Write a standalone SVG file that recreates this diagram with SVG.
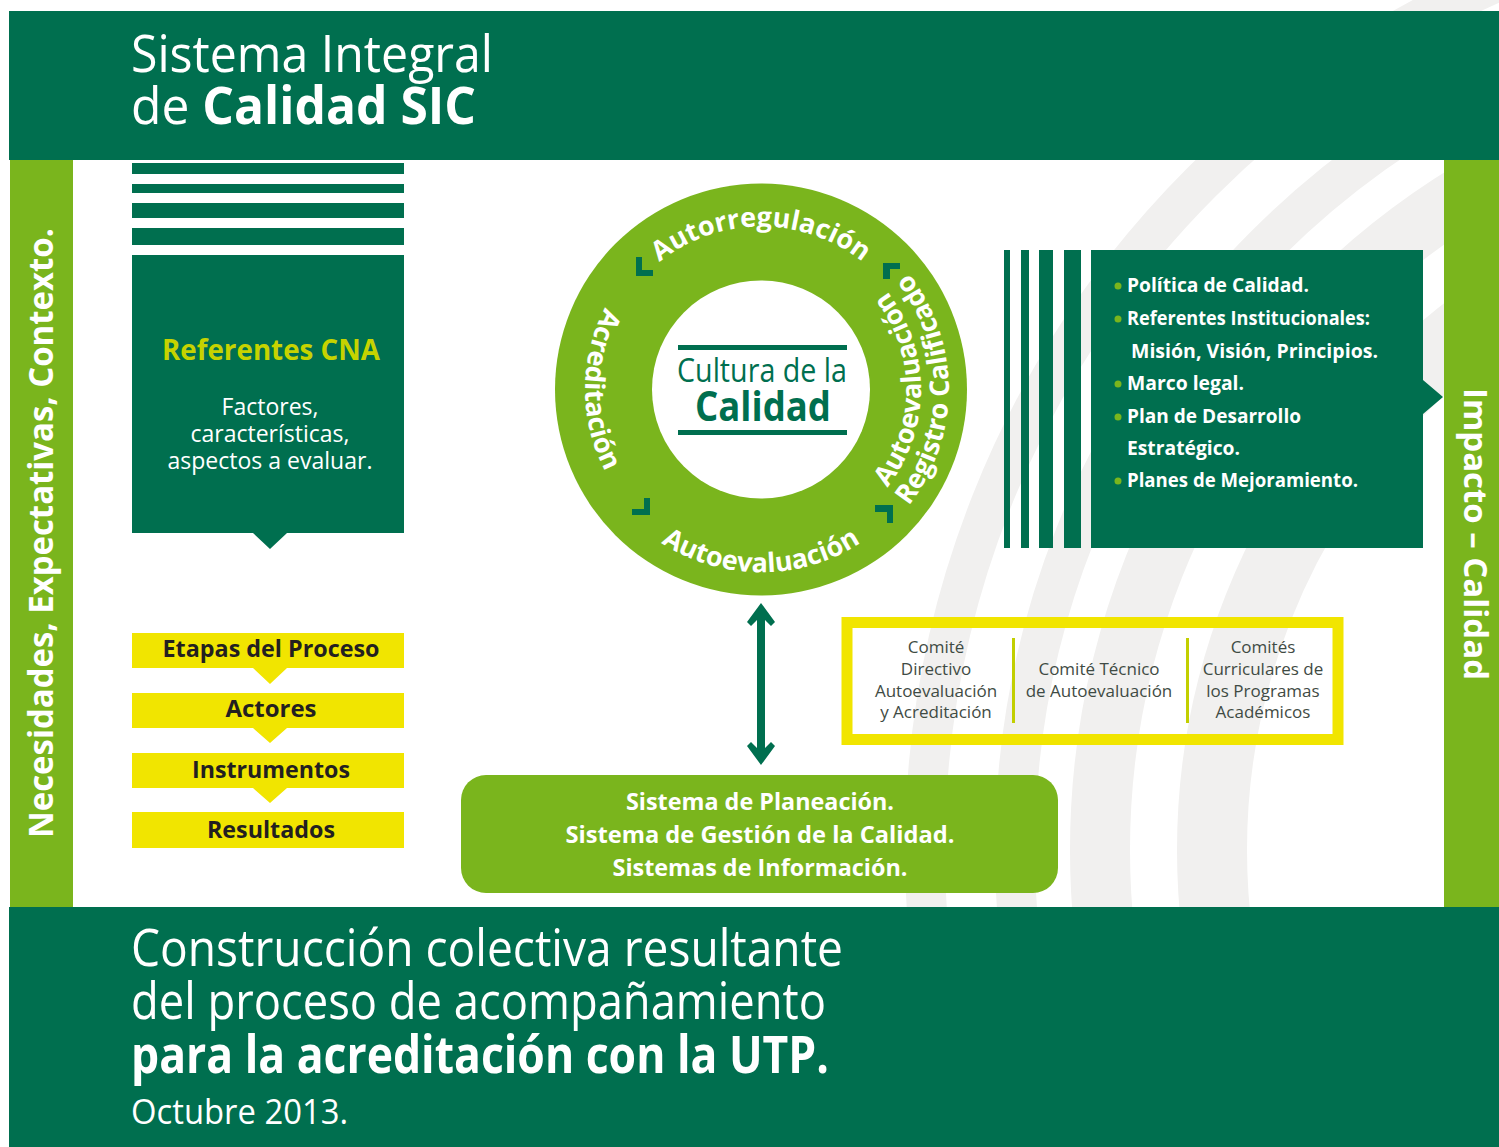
<svg xmlns="http://www.w3.org/2000/svg" width="1499" height="1147" viewBox="0 0 1499 1147">
<style>
  .dg{fill:#006f4f}
  .lg{fill:#7ab51d}
  .yl{fill:#f1e500}
  .wt{fill:#ffffff}
  .f{font-family:"Open Sans","Noto Sans","Liberation Sans",sans-serif}
  .b{font-weight:700}
  .c{text-anchor:middle}
  .ring{font-family:"Open Sans","Noto Sans","Liberation Sans",sans-serif;font-weight:700;fill:#ffffff;font-size:27px}
  .bul{font-family:"Open Sans","Noto Sans","Liberation Sans",sans-serif;font-weight:700;fill:#ffffff;font-size:20px}
  .com{font-family:"Open Sans","Noto Sans","Liberation Sans",sans-serif;fill:#3f4b44;font-size:17px;text-anchor:middle}
  .etp{font-family:"Open Sans","Noto Sans","Liberation Sans",sans-serif;font-weight:700;fill:#231f20;font-size:24px;text-anchor:middle}
  .arc{fill:none;stroke:#f1f0ef}
</style>
<defs>
  <path id="pTop" d="M598,389.5 A163,163 0 0 1 924,389.5"/>
  <path id="pBot" d="M578,389.5 A183,183 0 0 0 944,389.5"/>
  <path id="pLeft" d="M761,213.5 A176,176 0 0 0 761,565.5"/>
  <path id="pRin" d="M761,549.5 A160,160 0 0 0 761,229.5"/>
  <path id="pRout" d="M761,577.5 A188,188 0 0 0 761,201.5"/>
</defs>
<rect x="0" y="0" width="1499" height="1147" fill="#ffffff"/>
<g id="watermark">
  <circle class="arc" cx="1870" cy="850" r="945" stroke-width="40"/>
  <circle class="arc" cx="1870" cy="850" r="855" stroke-width="40"/>
  <circle class="arc" cx="1870" cy="850" r="770" stroke-width="60"/>
  <circle class="arc" cx="1870" cy="850" r="658" stroke-width="70"/>
</g>
<g id="header">
  <rect class="dg" x="9" y="11" width="1490" height="149"/>
  <text class="f" x="131" y="72" font-size="52" fill="#fff" textLength="362" lengthAdjust="spacingAndGlyphs">Sistema Integral</text>
  <text class="f" x="131" y="124" font-size="52" fill="#fff" textLength="345" lengthAdjust="spacingAndGlyphs">de <tspan class="b">Calidad SIC</tspan></text>
</g>
<g id="left-bar">
  <rect class="lg" x="10" y="160" width="63" height="747"/>
  <text class="f b" transform="translate(53,838) rotate(-90)" x="0" y="0" font-size="34" fill="#fff" textLength="610" lengthAdjust="spacingAndGlyphs">Necesidades, Expectativas, Contexto.</text>
</g>
<g id="right-bar">
  <rect class="lg" x="1444" y="160" width="55" height="747"/>
  <text class="f b" transform="translate(1464,388) rotate(90)" x="0" y="0" font-size="33" fill="#fff" textLength="292" lengthAdjust="spacingAndGlyphs">Impacto – Calidad</text>
</g>
<g id="footer">
  <rect class="dg" x="9" y="907" width="1490" height="240"/>
  <text class="f" x="131" y="966" font-size="52" fill="#fff" textLength="712" lengthAdjust="spacingAndGlyphs">Construcción colectiva resultante</text>
  <text class="f" x="131" y="1019" font-size="52" fill="#fff" textLength="695" lengthAdjust="spacingAndGlyphs">del proceso de acompañamiento</text>
  <text class="f b" x="131" y="1073" font-size="52" fill="#fff" textLength="698" lengthAdjust="spacingAndGlyphs">para la acreditación con la UTP.</text>
  <text class="f" x="131" y="1124" font-size="35" fill="#fff" textLength="217" lengthAdjust="spacingAndGlyphs">Octubre 2013.</text>
</g>
<g id="referentes">
  <rect class="dg" x="132" y="163" width="272" height="11"/>
  <rect class="dg" x="132" y="184" width="272" height="9"/>
  <rect class="dg" x="132" y="203" width="272" height="15"/>
  <rect class="dg" x="132" y="228" width="272" height="17"/>
  <path class="dg" d="M132,255 H404 V533 H287 L270,549 L253,533 H132 Z"/>
  <text class="f b c" x="271" y="360" font-size="29" fill="#c6d300" textLength="218" lengthAdjust="spacingAndGlyphs">Referentes CNA</text>
  <text class="f c" x="270" y="415" font-size="23" fill="#fff">Factores,</text>
  <text class="f c" x="270" y="442" font-size="23" fill="#fff">características,</text>
  <text class="f c" x="270" y="469" font-size="23" fill="#fff" textLength="205" lengthAdjust="spacingAndGlyphs">aspectos a evaluar.</text>
</g>
<g id="etapas">
  <path class="yl" d="M132,633 H404 V668 H287 L270,684 L253,668 H132 Z"/>
  <text class="etp" x="271" y="657" textLength="217" lengthAdjust="spacingAndGlyphs">Etapas del Proceso</text>
</g>
<g id="actores">
  <path class="yl" d="M132,693 H404 V728 H287 L270,743 L253,728 H132 Z"/>
  <text class="etp" x="271" y="717" textLength="91" lengthAdjust="spacingAndGlyphs">Actores</text>
</g>
<g id="instrumentos">
  <path class="yl" d="M132,753 H404 V788 H287 L270,803 L253,788 H132 Z"/>
  <text class="etp" x="271" y="778" textLength="158" lengthAdjust="spacingAndGlyphs">Instrumentos</text>
</g>
<g id="resultados">
  <rect class="yl" x="132" y="812" width="272" height="36"/>
  <text class="etp" x="271" y="838" textLength="128" lengthAdjust="spacingAndGlyphs">Resultados</text>
</g>
<g id="ring">
  <circle class="lg" cx="761" cy="389.5" r="206"/>
  <circle class="wt" cx="761" cy="389.5" r="109"/>
  <rect class="dg" x="678" y="345" width="169" height="5"/>
  <rect class="dg" x="678" y="430" width="169" height="5"/>
  <text class="f c" x="762" y="382" font-size="32" fill="#006f4f" textLength="170" lengthAdjust="spacingAndGlyphs">Cultura de la</text>
  <text class="f b c" x="763" y="421" font-size="42" fill="#006f4f" textLength="136" lengthAdjust="spacingAndGlyphs">Calidad</text>
  <text class="ring"><textPath href="#pTop" startOffset="50%" text-anchor="middle">Autorregulación</textPath></text>
  <text class="ring" font-size="28"><textPath href="#pBot" startOffset="50%" text-anchor="middle">Autoevaluación</textPath></text>
  <text class="ring" font-size="26"><textPath href="#pLeft" startOffset="50%" text-anchor="middle">Acreditación</textPath></text>
  <text class="ring" font-size="27"><textPath href="#pRin" startOffset="50%" text-anchor="middle">Autoevaluación</textPath></text>
  <text class="ring" font-size="27"><textPath href="#pRout" startOffset="50%" text-anchor="middle">Registro Calificado</textPath></text>
  <polygon class="dg" points="636,257 642,257 642,270 653,270 653,276 636,276"/>
  <polygon class="dg" points="883,263 900,263 900,269 890,269 890,279 883,279"/>
  <polygon class="dg" points="875,505 893,505 893,523 887,523 887,512 875,512"/>
  <polygon class="dg" points="644,498 650,498 650,515 632,515 632,509 644,509"/>
</g>
<g id="institucional">
  <rect class="dg" x="1004" y="250" width="6" height="298"/>
  <rect class="dg" x="1021" y="250" width="8" height="298"/>
  <rect class="dg" x="1039" y="250" width="14" height="298"/>
  <rect class="dg" x="1064" y="250" width="17" height="298"/>
  <path class="dg" d="M1091,250 H1423 V380 L1443,397 L1423,414 V548 H1091 Z"/>
  <g fill="#7ab51d">
    <circle cx="1118" cy="286" r="3.5"/>
    <circle cx="1118" cy="319" r="3.5"/>
    <circle cx="1118" cy="384" r="3.5"/>
    <circle cx="1118" cy="417" r="3.5"/>
    <circle cx="1118" cy="481" r="3.5"/>
  </g>
  <text class="bul" x="1127" y="292" textLength="182" lengthAdjust="spacingAndGlyphs">Política de Calidad.</text>
  <text class="bul" x="1127" y="325" textLength="243" lengthAdjust="spacingAndGlyphs">Referentes Institucionales:</text>
  <text class="bul" x="1131" y="358" textLength="247" lengthAdjust="spacingAndGlyphs">Misión, Visión, Principios.</text>
  <text class="bul" x="1127" y="390" textLength="117" lengthAdjust="spacingAndGlyphs">Marco legal.</text>
  <text class="bul" x="1127" y="423" textLength="174" lengthAdjust="spacingAndGlyphs">Plan de Desarrollo</text>
  <text class="bul" x="1127" y="455" textLength="113" lengthAdjust="spacingAndGlyphs">Estratégico.</text>
  <text class="bul" x="1127" y="487" textLength="231" lengthAdjust="spacingAndGlyphs">Planes de Mejoramiento.</text>
</g>
<g id="comites">
  <rect x="847" y="622.5" width="491" height="117" fill="none" stroke="#f1e500" stroke-width="11"/>
  <rect x="1012" y="638" width="3" height="85" fill="#c2cf00"/>
  <rect x="1186" y="638" width="3" height="85" fill="#c2cf00"/>
  <text class="com" x="936" y="653">Comité</text>
  <text class="com" x="936" y="675">Directivo</text>
  <text class="com" x="936" y="697">Autoevaluación</text>
  <text class="com" x="936" y="718">y Acreditación</text>
  <text class="com" x="1099" y="675">Comité Técnico</text>
  <text class="com" x="1099" y="697">de Autoevaluación</text>
  <text class="com" x="1263" y="653">Comités</text>
  <text class="com" x="1263" y="675">Curriculares de</text>
  <text class="com" x="1263" y="697">los Programas</text>
  <text class="com" x="1263" y="718">Académicos</text>
</g>
<g id="sistemas">
  <rect class="lg" x="461" y="775" width="597" height="118" rx="25" ry="25"/>
  <text class="f b c" x="760" y="810" font-size="24" fill="#fff" textLength="268" lengthAdjust="spacingAndGlyphs">Sistema de Planeación.</text>
  <text class="f b c" x="760" y="843" font-size="24" fill="#fff" textLength="389" lengthAdjust="spacingAndGlyphs">Sistema de Gestión de la Calidad.</text>
  <text class="f b c" x="760" y="876" font-size="24" fill="#fff" textLength="295" lengthAdjust="spacingAndGlyphs">Sistemas de Información.</text>
</g>
<g id="connectors">
  <path class="dg" d="M761,603 L775,622 L771,626 L765,620 L765,748 L771,742 L775,746 L761,765 L747,746 L751,742 L757,748 L757,620 L751,626 L747,622 Z"/>
</g>
</svg>
